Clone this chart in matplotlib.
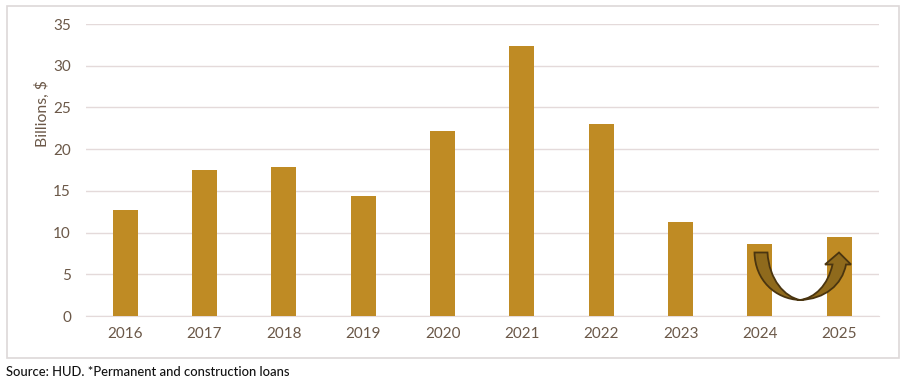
import matplotlib
matplotlib.use('Agg')
import matplotlib.pyplot as plt
from matplotlib.patches import PathPatch, Rectangle
from matplotlib.path import Path
from matplotlib.transforms import Affine2D

years = ['2016', '2017', '2018', '2019', '2020', '2021', '2022', '2023', '2024', '2025']
loans = [12.7, 17.5, 17.9, 14.4, 22.2, 32.4, 23.0, 11.3, 8.6, 9.5]
y_ticks = [0, 5, 10, 15, 20, 25, 30, 35]

plt.rcParams['font.family'] = ['Lato', 'DejaVu Sans']

W, H = 907, 385
txt = '#6B5848'
fig = plt.figure(figsize=(W / 100, H / 100), dpi=100)
ax = fig.add_axes([85.5 / W, (H - 316) / H, 793.5 / W, 292 / H])

# 柱子和网格线
ax.bar(range(len(years)), loans, width=0.315, color='#BF8B24', zorder=3)
ax.set_xlim(-0.5, 9.5)
ax.set_ylim(0, 35)
ax.set_xticks(range(len(years)), years)
ax.set_yticks(y_ticks)
ax.grid(axis='y', color='#E4DADA', linewidth=1, zorder=0)
ax.tick_params(length=0, labelsize=11, labelcolor=txt)
ax.tick_params(axis='x', pad=8)
ax.tick_params(axis='y', pad=10.5)
for s in ['top', 'right', 'left']:
    ax.spines[s].set_visible(False)
ax.spines['bottom'].set_color('#E4DADA')
ax.set_ylabel('Billions, $', fontsize=11.3, color=txt)
ax.yaxis.set_label_coords(-0.045, 0.693)

# 外框和来源（像素坐标，原点在左上角）
px = Affine2D().scale(1, -1).translate(0, H)
fig.add_artist(Rectangle((6.5, 5.5), 892, 352, transform=px, fill=False,
                         edgecolor='#DDD8D8', linewidth=1.2))
fig.text(6 / W, (H - 372.5) / H, 'Source: HUD. *Permanent and construction loans',
         fontsize=9.4, color='#111111', va='center', fontweight='medium')

# U 形箭头
verts = [(754.5, 252.5),
         (755, 280), (775, 299), (800, 300),
         (825, 299), (842, 285), (846, 264.5),
         (851, 264.5), (839, 252.5), (825, 264.5), (832.5, 264.5),
         (828, 285), (815, 298), (800, 300),
         (785, 297), (769, 280), (767.5, 252.5),
         (754.5, 252.5)]
codes = [Path.MOVETO,
         Path.CURVE4, Path.CURVE4, Path.CURVE4,
         Path.CURVE4, Path.CURVE4, Path.CURVE4,
         Path.LINETO, Path.LINETO, Path.LINETO, Path.LINETO,
         Path.CURVE4, Path.CURVE4, Path.CURVE4,
         Path.CURVE4, Path.CURVE4, Path.CURVE4,
         Path.CLOSEPOLY]
fig.add_artist(PathPatch(Path(verts, codes), transform=px, facecolor='#8F6A1C',
                         edgecolor='#4A3510', linewidth=1.3, joinstyle='miter'))

fig.savefig('out.png', dpi=100)
